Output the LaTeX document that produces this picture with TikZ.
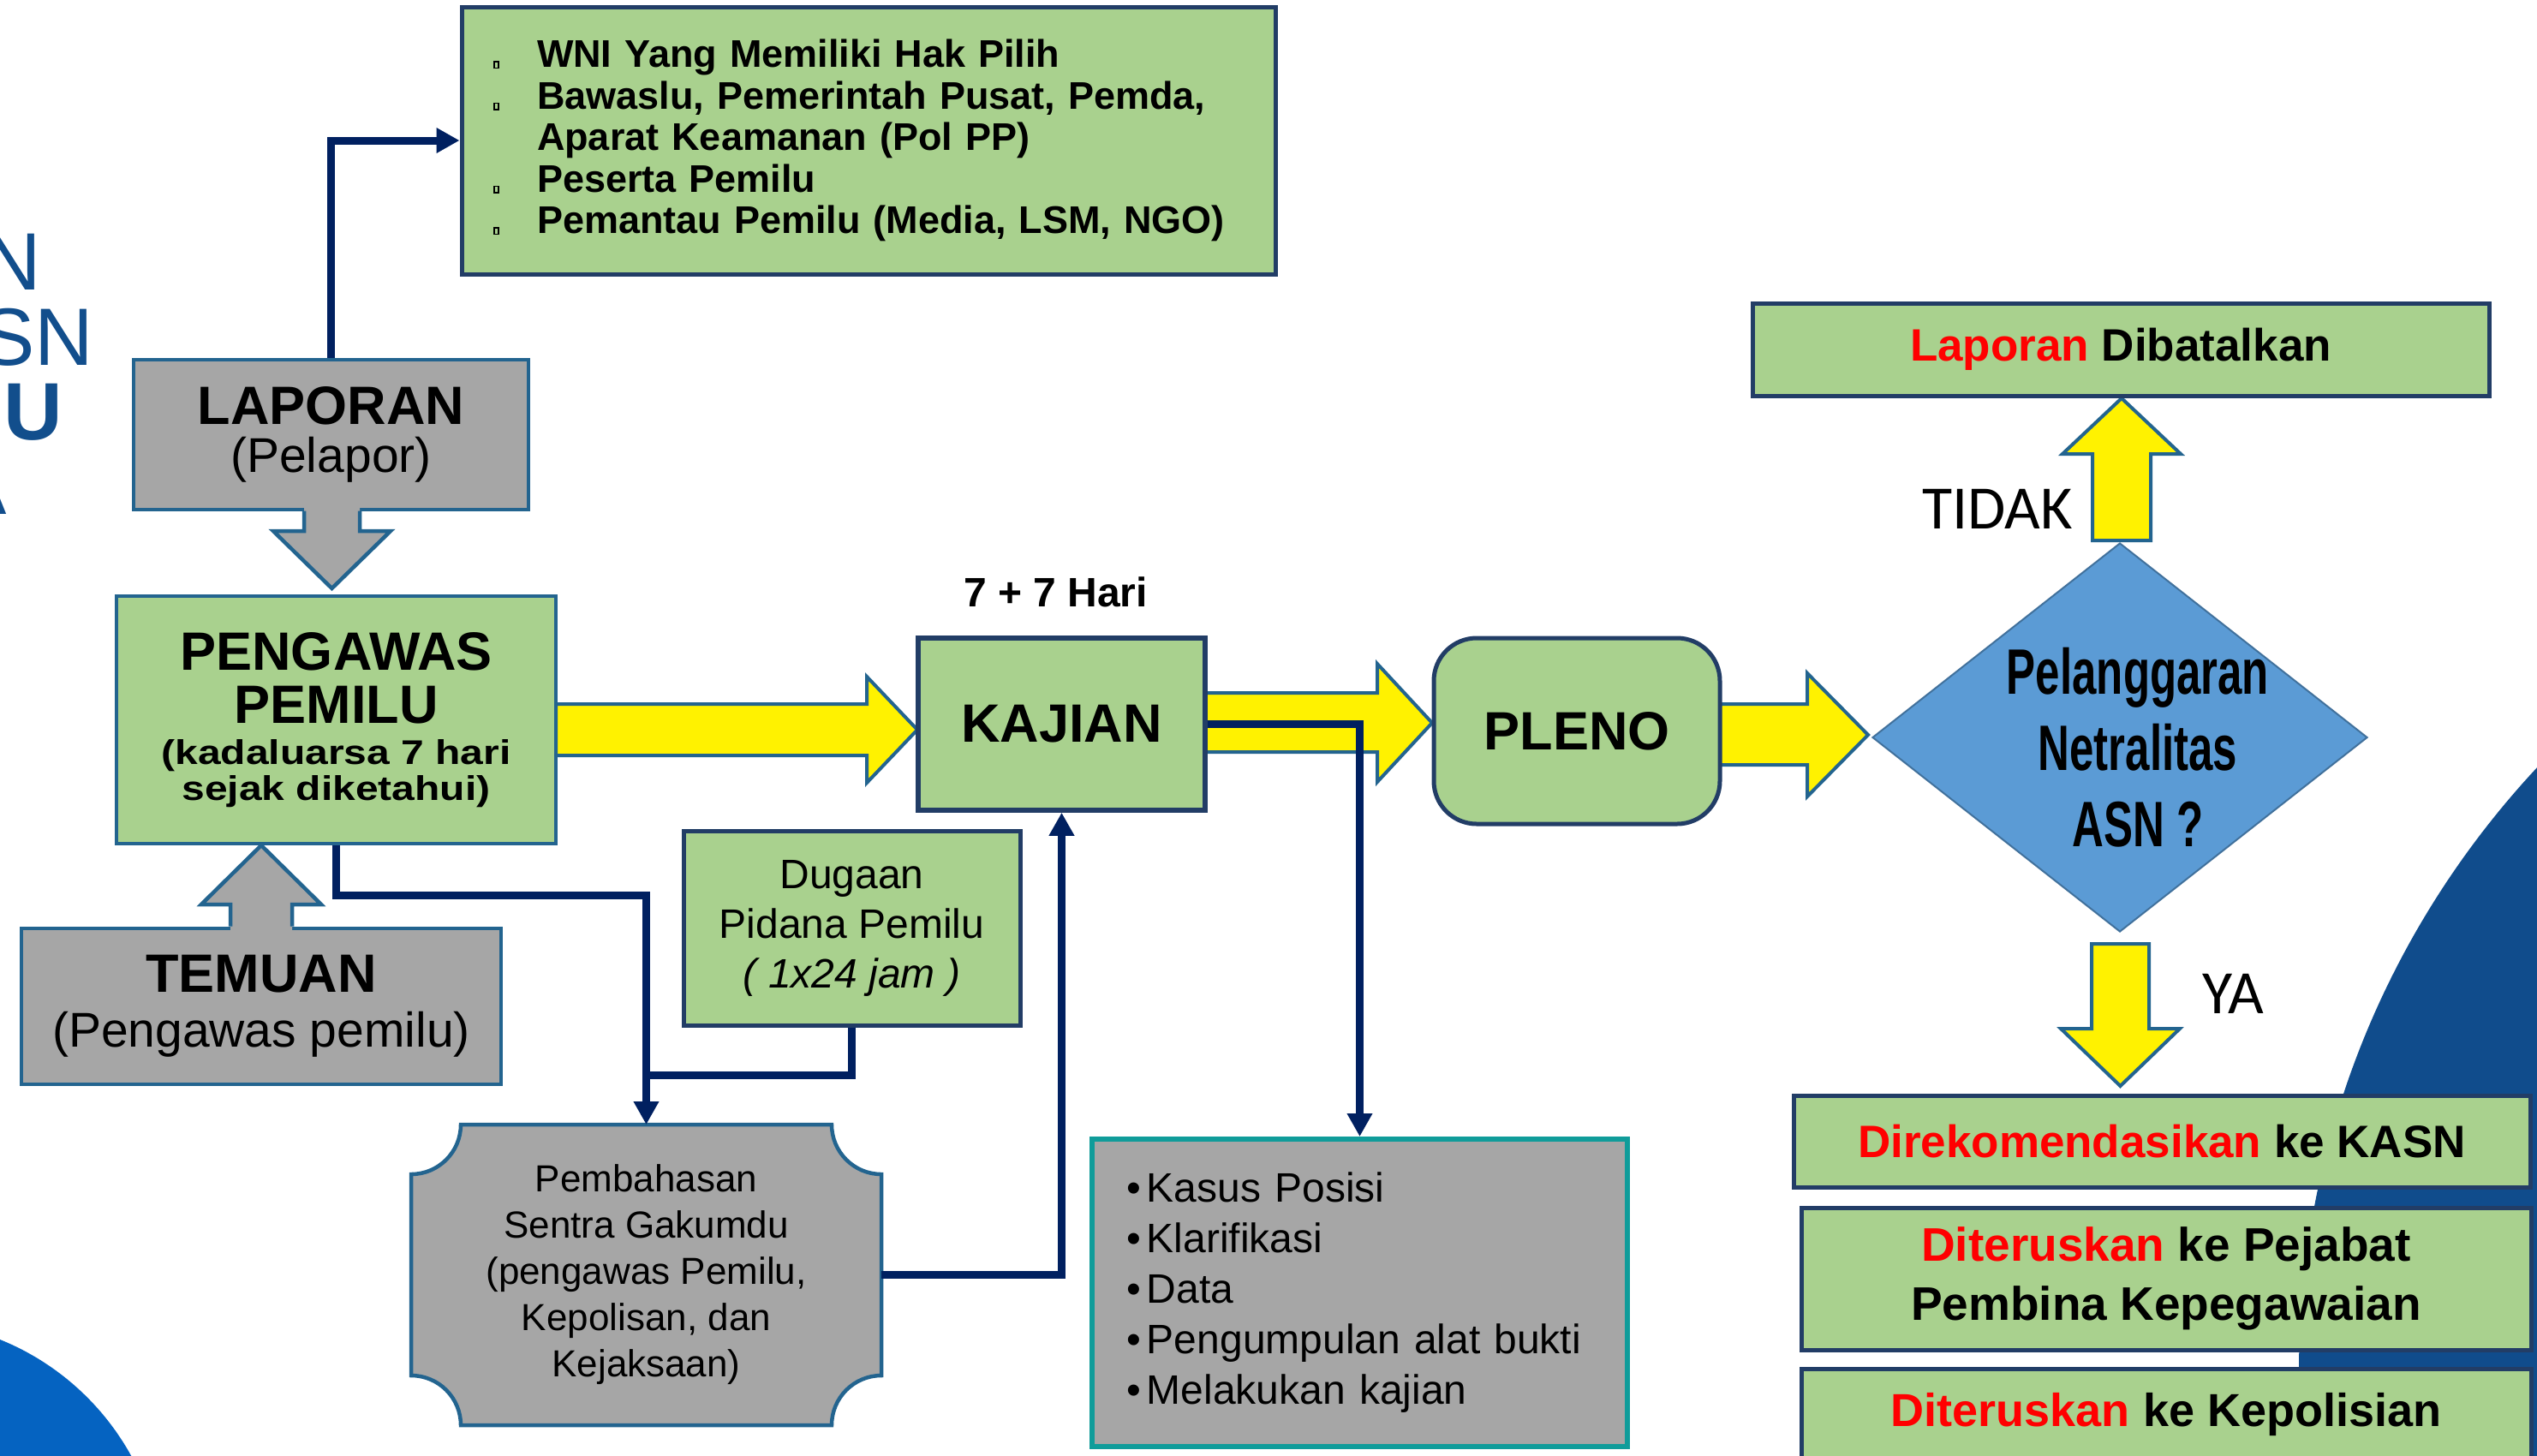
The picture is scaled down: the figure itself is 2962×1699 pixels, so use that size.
\documentclass[tikz,border=0pt]{standalone}
\usepackage{fontspec}
\setmainfont{Liberation Sans}
\newfontfamily\widefont{Liberation Sans}[FakeStretch=1.2]
\newfontfamily\condfont{Liberation Sans}[FakeStretch=0.68]
\newfontfamily\calfont{Carlito}
\usetikzlibrary{arrows.meta,shapes.geometric}
\definecolor{boxgreen}{HTML}{A9D18E}
\definecolor{grayf}{HTML}{A6A6A6}
\definecolor{tealb}{HTML}{23648F}
\definecolor{navyb}{HTML}{223D66}
\definecolor{connc}{HTML}{002060}
\definecolor{kasusb}{HTML}{109C9A}
\definecolor{diafill}{HTML}{5B9BD5}
\definecolor{diab}{HTML}{41719C}
\definecolor{bigblue}{HTML}{104C8C}
\definecolor{brightblue}{HTML}{0563C1}
\definecolor{leftblue}{HTML}{124E8C}
\definecolor{redt}{HTML}{FF0000}
\newcommand\sqb{\makebox[25.5pt][l]{\fboxsep=0pt\fboxrule=0.8pt\framebox[3.5pt]{\rule{0pt}{3pt}}}}
\newcommand\bul{\makebox[12pt][l]{\textbullet}}
\begin{document}
\begin{tikzpicture}[x=0.5pt,y=-0.5pt,
  grbox/.style={draw=navyb, line width=2.5pt, fill=boxgreen, inner sep=0pt, align=center},
  gybox/.style={draw=tealb, line width=2.25pt, fill=grayf, inner sep=0pt, align=center},
  conn/.style={draw=connc, line width=4.5pt, -{Triangle[length=13.5pt,width=14pt]}},
  connl/.style={draw=connc, line width=4.5pt},
  yarrow/.style={fill=yellow, draw=tealb, line width=2pt, line join=miter},
  grayarrow/.style={draw=tealb, line width=2.25pt, line join=miter},
  txt/.style={inner sep=0pt, anchor=base}]
\useasboundingbox (0,0) rectangle (2962,1699);
\clip (0,0) rectangle (2962,1699);
\fill[white] (0,0) rectangle (2962,1699);
% background circles
\fill[bigblue] (3719,1602) circle[radius=1035];
\fill[brightblue] (-114,1847) circle[radius=305];
% cut-off title fragments
\node[txt, anchor=base east, text=leftblue, font=\fontsize{47.5}{47.5}\selectfont] (ln1) at (49,338) {N};
\node[txt, anchor=base east, text=leftblue, font=\fontsize{47.5}{47.5}\selectfont] (ln2) at (110,426) {SN};
\node[txt, anchor=base east, text=leftblue, font=\bfseries\fontsize{47.5}{47.5}\selectfont] (ln3) at (74,513) {U};
\node[txt, anchor=base east, text=leftblue, font=\fontsize{47.5}{47.5}\selectfont] (ln4) at (8,600) {A};

% yellow block arrows
\draw[yarrow] (649,822) -- (1012,822) -- (1012,790) -- (1071,852) -- (1012,914) -- (1012,882) -- (649,882) -- cycle;
\draw[yarrow] (1407,809) -- (1608,809) -- (1608,775) -- (1672,844) -- (1608,913) -- (1608,878) -- (1407,878) -- cycle;
\draw[yarrow] (2008,822) -- (2110,822) -- (2110,786) -- (2181,858) -- (2110,930) -- (2110,893) -- (2008,893) -- cycle;
\draw[yarrow] (2443,631) -- (2443,530) -- (2408,530) -- (2477,465) -- (2546,530) -- (2511,530) -- (2511,631) -- cycle;
\draw[yarrow] (2442,1102) -- (2509,1102) -- (2509,1201) -- (2545,1201) -- (2475.5,1268) -- (2406,1201) -- (2442,1201) -- cycle;

% LAPORAN
\node[gybox, minimum width=230.5pt, minimum height=87.5pt, font=\bfseries\fontsize{31.5}{28}\selectfont] (laporan) at (386.5,507.5) {LAPORAN\\{\mdseries\fontsize{28.5}{28}\selectfont(Pelapor)}};
\fill[grayf] (355,590) -- (355,620) -- (319,620) -- (387.5,687) -- (456,620) -- (420,620) -- (420,590) -- cycle;
\draw[grayarrow] (355,596.5) -- (355,620) -- (319,620) -- (387.5,687) -- (456,620) -- (420,620) -- (420,596.5);

% PENGAWAS
\node[grbox, draw=tealb, line width=2.25pt, minimum width=256.5pt, minimum height=144.5pt, font=\fontsize{20}{21}\selectfont, execute at begin node={\lineskiplimit=-100pt}] (pengawas) at (392.5,840.5)
 {{\bfseries\fontsize{31.5}{21}\selectfont PENGAWAS}\\[10pt]{\bfseries\fontsize{31.5}{21}\selectfont PEMILU}\\[3pt]{\widefont\bfseries (kadaluarsa 7 hari}\\{\widefont\bfseries sejak diketahui)}};

% TEMUAN
\node[gybox, minimum width=280pt, minimum height=91pt, font=\bfseries\fontsize{31.5}{32}\selectfont] (temuan) at (305,1175) {TEMUAN\\{\mdseries\fontsize{28.5}{32}\selectfont(Pengawas pemilu)}};
\fill[grayf] (269,1090) -- (269,1056) -- (235,1056) -- (305,987) -- (375,1056) -- (341,1056) -- (341,1090) -- cycle;
\draw[grayarrow] (269,1081.5) -- (269,1056) -- (235,1056) -- (305,987) -- (375,1056) -- (341,1056) -- (341,1081.5);

% list box
\node[grbox, minimum width=475pt, minimum height=156pt, text width=438pt, inner xsep=18.5pt, inner ysep=0pt, align=left, font=\bfseries\fontsize{22.5}{24.25}\selectfont] (list) at (1014,164)
 {\sqb WNI Yang Memiliki Hak Pilih\\\sqb Bawaslu, Pemerintah Pusat, Pemda,\\\hspace*{25.5pt}Aparat Keamanan (Pol PP)\\\sqb Peserta Pemilu\\\sqb Pemantau Pemilu (Media, LSM, NGO)};

% Dugaan
\node[grbox, minimum width=196.5pt, minimum height=113.5pt, font=\fontsize{24}{29}\selectfont] (dugaan) at (994.5,1083.5) {Dugaan\\Pidana Pemilu\\\textit{( 1x24 jam )}};

% Pembahasan (plaque shape)
\draw[fill=grayf, draw=tealb, line width=2.25pt] (538,1313) -- (971,1313) .. controls (971,1345) and (997,1371) .. (1029,1371) -- (1029,1606) .. controls (997,1606) and (971,1632) .. (971,1664) -- (538,1664) .. controls (538,1632) and (512,1606) .. (480,1606) -- (480,1371) .. controls (512,1371) and (538,1345) .. (538,1313) -- cycle;
\node[inner sep=0pt, outer sep=0pt, minimum width=274.5pt, minimum height=175.5pt, align=center, font=\fontsize{22}{27}\selectfont] (pemb) at (754.5,1488.5) {Pembahasan\\Sentra Gakumdu\\(pengawas Pemilu,\\Kepolisan, dan\\Kejaksaan)};

% KAJIAN, PLENO
\node[grbox, line width=2.75pt, minimum width=167.5pt, minimum height=100.5pt, font=\bfseries\fontsize{31.5}{31.5}\selectfont] (kajian) at (1239.5,845.5) {KAJIAN};
\node[txt, font=\bfseries\fontsize{24}{24}\selectfont] (hari) at (1232.5,708) {7 + 7 Hari};
\node[grbox, rounded corners=25pt, minimum width=167pt, minimum height=108.5pt, font=\bfseries\fontsize{31.5}{31.5}\selectfont] (pleno) at (1841,853.5) {PLENO};

% Kasus list
\node[draw=kasusb, line width=3pt, fill=grayf, minimum width=312.5pt, minimum height=179.5pt, text width=272.5pt, inner xsep=20pt, inner ysep=0pt, align=left, font=\fontsize{24}{29.5}\selectfont] (kasus) at (1587.5,1509.5)
 {\bul Kasus Posisi\\\bul Klarifikasi\\\bul Data\\\bul Pengumpulan alat bukti\\\bul Melakukan kajian};

% decision
\node[diamond, draw=diab, line width=1pt, fill=diafill, minimum width=289pt, minimum height=227pt, inner sep=0pt] (dec) at (2475,861) {};
\node[inner sep=0pt, align=center, font=\condfont\bfseries\fontsize{37.5}{44.5}\selectfont] (decT) at (2496,873) {Pelanggaran\\Netralitas\\ASN ?};
\node[txt, anchor=base east, font=\calfont\fontsize{36}{36}\selectfont] (tidak) at (2420,617) {TIDAK};
\node[txt, anchor=base west, font=\calfont\fontsize{36}{36}\selectfont] (ya) at (2571,1183) {YA};

% outcome boxes
\node[grbox, minimum width=430pt, minimum height=54pt, font=\bfseries\fontsize{26.5}{26.5}\selectfont] (batal) at (2476,408) {\textcolor{redt}{Laporan} Dibatalkan};
\node[grbox, minimum width=430pt, minimum height=53.5pt, font=\bfseries\fontsize{26.5}{26.5}\selectfont] (kasn) at (2524,1332.5) {\textcolor{redt}{Direkomendasikan} ke KASN};
\node[grbox, minimum width=426pt, minimum height=83pt, font=\bfseries\fontsize{27.5}{34.5}\selectfont] (ppk) at (2529,1493) {\textcolor{redt}{Diteruskan} ke Pejabat\\Pembina Kepegawaian};
\node[grbox, minimum width=426pt, minimum height=54pt, font=\bfseries\fontsize{27}{27}\selectfont] (polisi) at (2529,1652) {\textcolor{redt}{Diteruskan} ke Kepolisian};

% connectors
\draw[conn] (laporan.north) |- (list.west);
\draw[conn] (pengawas.south) -- ++(0,58) -| (pemb.north);
\coordinate (joinpt) at (754.5,1255);
\draw[connl] (dugaan.south) |- (joinpt);
\draw[conn] (pemb.east) -| (kajian.south);
\draw[conn] (kajian.east) -| (kasus.north);
\end{tikzpicture}
\end{document}
